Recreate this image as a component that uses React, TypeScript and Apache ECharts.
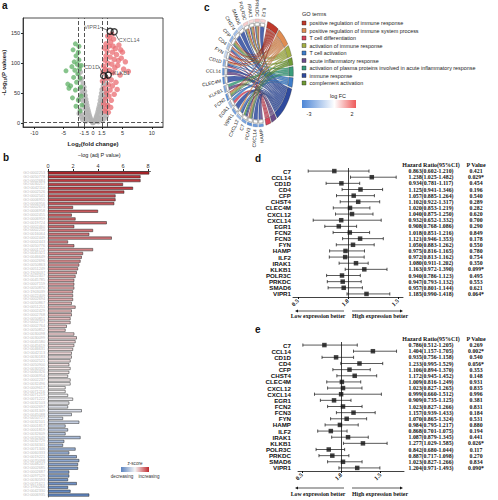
import React, { useEffect, useRef } from "react";
import * as echarts from "echarts";

// ---------------- Panel a : volcano ----------------
const volcanoXTicks = [-10, -5, -1.5, 0, 1.5, 5, 10];
const volcanoYTicks = [0, 50, 100, 150];
const fcCutoffs = [-2.5, -1.5, 1.5, 2.5];
const pCutoff = 1.3;
const volcanoGray = [
  [-0.1, 0.5], [0.1, 0.8], [0.2, 2], [-0.2, 2.5], [0.3, 4], [-0.3, 4.5], [0.4, 6], [-0.4, 7], [0.5, 9], [-0.5, 10],
  [0.6, 12], [-0.6, 13], [0.7, 15], [-0.7, 17], [0.8, 19], [-0.8, 21], [0.9, 23], [-0.9, 25], [1.0, 27], [-1.0, 30],
  [1.1, 32], [-1.1, 35], [1.2, 38], [-1.2, 40], [1.3, 44], [-1.3, 46], [1.4, 50], [-1.4, 53], [1.5, 56], [-1.5, 60],
  [1.0, 8], [-1.0, 10], [1.2, 14], [-1.2, 16], [1.4, 20], [-1.4, 24], [1.6, 26], [-1.6, 30], [1.8, 34], [-1.8, 38],
  [2.0, 42], [-2.0, 48], [2.2, 52], [-2.2, 58], [1.7, 62], [-1.7, 66], [1.9, 70], [-1.9, 74], [2.1, 80], [-2.1, 85],
  [2.3, 88], [-2.3, 95], [0.6, 3], [-0.8, 5], [1.3, 6], [-1.5, 9], [1.7, 12], [-1.9, 15], [2.1, 18], [-2.2, 22],
  [2.4, 30], [-2.4, 40], [2.0, 8], [-2.0, 10], [0.9, 2], [-1.2, 3], [1.6, 4], [-1.8, 6], [2.3, 12], [-2.4, 16],
  [1.1, 20], [-1.1, 22], [1.5, 36], [-1.5, 40], [1.9, 48], [-1.9, 55], [2.2, 65], [-2.2, 72], [1.3, 28], [-1.3, 32],
  [1.7, 44], [-1.7, 50], [2.4, 74], [-2.4, 82], [0.8, 10], [-0.9, 14],
];
const volcanoDown = [
  [-1.9, 30], [-2.0, 45], [-2.1, 60], [-2.2, 75], [-2.3, 90], [-2.4, 105], [-2.5, 118], [-2.6, 82], [-2.7, 98],
  [-2.8, 68], [-2.9, 112], [-3.0, 55], [-3.1, 88], [-3.2, 102], [-3.3, 76], [-3.4, 122], [-3.6, 94], [-3.8, 62],
  [-4.1, 58], [-4.3, 65], [-4.6, 87], [-2.2, 20], [-2.5, 38], [-2.9, 28], [-3.5, 42], [-2.0, 96], [-2.4, 128], [-3.0, 132],
];
const volcanoUp = [
  [1.6, 70], [1.7, 85], [1.8, 95], [1.9, 58], [2.0, 105], [2.1, 90], [2.2, 112], [2.3, 75], [2.4, 120], [2.5, 100],
  [2.6, 64], [2.7, 128], [2.8, 88], [2.9, 110], [3.0, 135], [3.1, 72], [3.2, 98], [3.3, 118], [3.4, 84], [3.5, 140],
  [3.6, 106], [3.7, 92], [3.8, 124], [3.9, 68], [4.0, 114], [4.2, 96], [4.4, 130], [4.6, 80], [4.8, 108], [5.0, 118],
  [5.5, 102], [5.2, 90], [6.0, 86], [2.1, 40], [2.3, 50], [2.5, 30], [2.7, 45], [2.9, 55], [3.1, 38], [3.3, 62],
  [2.2, 25], [2.6, 18], [3.0, 26], [3.6, 48], [4.1, 56], [1.9, 125], [2.2, 132], [2.5, 145], [2.8, 142], [3.2, 148],
  [3.4, 128], [4.3, 104], [4.7, 122], [2.0, 20], [1.8, 32],
];
const labeledGenes = ["VIPR1", "CXCL14", "CD1D", "KLKB1"];
const labeledFC = [2.9, 3.6, 1.8, 2.6];
const labeledP = [153, 152, 79, 80];

// ---------------- Panel b : GO bars ----------------
const goTermIds = [
  "GO:0002253", "GO:0050778", "GO:0002684", "GO:0030217", "GO:0042110", "GO:0002526", "GO:0002541", "GO:0006955", "GO:0006956", "GO:0002673",
  "GO:0006958", "GO:0002455", "GO:0006959", "GO:0019724", "GO:0002460", "GO:0002250", "GO:0016064", "GO:0002449", "GO:0002443", "GO:0050776",
  "GO:0001775", "GO:0045321", "GO:0046649", "GO:0002696", "GO:0050863", "GO:0051249", "GO:1903037", "GO:0022407", "GO:0045785", "GO:0007159",
  "GO:0050870", "GO:1903039", "GO:0022409", "GO:0002694", "GO:0050867", "GO:0051251", "GO:0002429", "GO:0002768", "GO:0050851", "GO:0002757",
  "GO:0002764", "GO:0050852", "GO:0030098", "GO:0030099", "GO:0045580", "GO:0045619", "GO:0046631", "GO:0042113", "GO:0030183", "GO:0002521",
  "GO:0050900", "GO:0030595", "GO:0060326", "GO:0006954", "GO:0002237", "GO:0032496", "GO:0009617", "GO:0071216", "GO:0071219", "GO:0071222",
  "GO:0032103", "GO:0002697", "GO:0031349", "GO:0045088", "GO:0050727", "GO:0032101", "GO:0001817", "GO:0001819", "GO:0032609", "GO:0032649",
  "GO:0032729", "GO:0034341", "GO:0071346", "GO:0060333", "GO:0019221", "GO:0070098", "GO:0048247", "GO:0002685", "GO:0002687", "GO:0097529",
  "GO:0030593", "GO:0071621", "GO:1990266", "GO:0042330", "GO:0006935",
];
const goNegLogAdjP = [
  8.1, 7.4, 7.4, 6.0, 6.8, 6.1, 5.4, 5.4, 5.3, 2.0, 4.0, 1.9, 2.2, 4.7, 2.1, 3.6, 3.3, 5.1, 1.6, 2.1,
  3.6, 2.8, 2.7, 2.6, 2.5, 2.4, 2.3, 2.2, 2.1, 2.1, 2.1, 2.0, 2.0, 2.0, 1.9, 2.2, 1.9, 1.9, 1.8, 1.8, 1.5, 1.4, 2.1, 2.3, 2.2, 2.1, 2.0, 1.9, 1.9, 1.8, 1.7,
  1.8, 1.7, 1.6, 1.8, 1.8, 1.4, 1.4, 1.6, 2.0, 1.7, 1.6, 2.7, 1.9, 1.2, 2.5, 1.4, 1.6, 1.4, 2.6, 1.3, 1.2, 2.2, 1.7, 2.3, 2.5, 2.4, 2.4, 1.7, 1.7, 1.6, 2.3, 1.6, 1.8, 3.3,
];
const goZScore = [
  3.3, 3.1, 3.0, 2.9, 2.9, 2.8, 2.7, 2.7, 2.6, 2.5, 2.5, 2.4, 2.4, 2.3, 2.3, 2.2, 2.1, 2.1, 2.0, 2.0,
  1.9, 1.9, 1.8, 1.8, 1.7, 1.7, 1.6, 1.6, 1.5, 1.5, 1.4, 1.4, 1.3, 1.3, 1.2, 1.2, 1.1, 1.1, 1.0, 1.0, 0.9, 0.9, 0.8, 0.8, 0.7, 0.7, 0.6, 0.6, 0.5, 0.5, 0.5,
  0.4, 0.4, 0.3, 0.3, 0.2, 0.2, 0.1, 0.0, 0.0, -0.1, -0.3, -0.4, -0.6, -0.7, -0.8, -1.0, -1.1, -1.2, -1.4, -1.5, -1.6, -1.7, -1.8, -1.9, -2.0, -2.1, -2.2, -2.3, -2.4, -2.5, -2.6, -2.7, -2.8, -2.9,
];
const barTicks = [0, 2, 4, 6, 8];

// ---------------- Panel c : GO chord ----------------
const goTerms = [
  "positive regulation of immune response",
  "positive regulation of immune system process",
  "T cell differentiation",
  "activation of immune response",
  "T cell activation",
  "acute inflammatory response",
  "activation of plasma proteins involved in acute inflammatory response",
  "immune response",
  "complement activation",
];
const goTermColors = ["#c0392b", "#e08d52", "#d6455b", "#a3b045", "#3d7cc9", "#6b4c8a", "#3a9c7b", "#2e4a9e", "#6f9a35"];
const chordGenes = ["ILF2", "PRKDC", "IRAK1", "POLR3C", "SMAD6", "CHST4", "CFP", "CD4", "FYN", "CD1D", "CCL14",
  "CLEC4M", "KLKB1", "FCN2", "EGR1", "VIPR1", "CXCL12", "C7", "FCN3", "CXCL14", "HAMP"];
const chordLogFC = [0.5, 0.7, 0.4, 0.6, -1.0, -1.6, -1.9, -1.3, -0.9, -2.0, -2.6, -2.9, -2.1, -2.7, -1.5, -2.3, -1.7, -2.2, -2.8, -2.4, -2.5];
const chordGeneTerms = [
  [7], [0, 1, 3, 7], [0, 1, 3, 7], [0, 1, 3, 7], [7], [7], [0, 1, 3, 6, 7, 8], [0, 1, 2, 4, 7], [0, 1, 2, 4, 7], [0, 1, 2, 4, 7],
  [5, 7], [7], [5, 6], [0, 1, 3, 6, 7, 8], [2, 4], [7], [1, 4, 7], [5, 6, 7, 8], [0, 1, 3, 6, 7, 8], [7], [5, 7],
];
const chordTermOrder = [0, 1, 3, 8, 6, 4, 7, 5, 2];
const lfcRange = [-3, 2];

// ---------------- Panels d / e : forest plots ----------------
const forestGenes = ["C7", "CCL14", "CD1D", "CD4", "CFP", "CHST4", "CLEC4M", "CXCL12", "CXCL14", "EGR1", "FCN2",
  "FCN3", "FYN", "HAMP", "ILF2", "IRAK1", "KLKB1", "POLR3C", "PRKDC", "SMAD6", "VIPR1"];
const dHR = [0.863, 1.238, 0.934, 1.125, 1.057, 1.102, 1.020, 1.040, 0.932, 0.908, 1.018, 1.121, 1.050, 0.975, 0.972, 1.080, 1.163, 0.940, 0.947, 0.957, 1.185];
const dLow = [0.602, 1.025, 0.781, 0.941, 0.885, 0.922, 0.853, 0.875, 0.652, 0.768, 0.851, 0.946, 0.883, 0.816, 0.813, 0.911, 0.972, 0.786, 0.793, 0.801, 0.990];
const dHigh = [1.210, 1.482, 1.117, 1.346, 1.264, 1.317, 1.219, 1.250, 1.332, 1.086, 1.216, 1.353, 1.262, 1.165, 1.162, 1.202, 1.390, 1.123, 1.132, 1.144, 1.418];
const dP = ["0.421", "0.029*", "0.454", "0.196", "0.540", "0.289", "0.282", "0.620", "0.700", "0.290", "0.849", "0.178", "0.550", "0.780", "0.754", "0.350", "0.099*", "0.495", "0.553", "0.621", "0.064*"];
const eHR = [0.786, 1.404, 0.935, 1.233, 1.106, 1.172, 1.009, 1.023, 0.999, 0.909, 1.023, 1.157, 1.070, 0.984, 0.868, 1.087, 1.277, 0.842, 0.887, 1.023, 1.204];
const eLow = [0.512, 1.157, 0.756, 0.995, 0.894, 0.945, 0.816, 0.827, 0.660, 0.735, 0.827, 0.939, 0.865, 0.795, 0.701, 0.879, 1.029, 0.680, 0.717, 0.827, 0.971];
const eHigh = [1.205, 1.705, 1.158, 1.529, 1.370, 1.452, 1.249, 1.265, 1.512, 1.125, 1.266, 1.433, 1.324, 1.217, 1.075, 1.345, 1.585, 1.044, 1.098, 1.266, 1.493];
const eP = ["0.269", "0.002*", "0.540", "0.056*", "0.353", "0.148", "0.931", "0.835", "0.996", "0.381", "0.831", "0.184", "0.531", "0.880", "0.194", "0.441", "0.026*", "0.117", "0.270", "0.834", "0.090*"];
const forestTicks = [0.5, 1, 1.5];

// ---------------- helpers ----------------
const SANS = '"Liberation Sans", Arial, sans-serif';
const SERIF = '"Liberation Serif", "Times New Roman", serif';
const DEG = Math.PI / 180;
const CH = { cx: 258, cy: 73, rx: 31, ry: 47 };
const LFC_BLUE = "#4d86d6";
const LFC_RED = "#ee5a5a";

function ellPt(a: number, s: number): number[] {
  return [CH.cx + s * CH.rx * Math.cos(a * DEG), CH.cy + s * CH.ry * Math.sin(a * DEG)];
}
function arcPts(a0: number, a1: number, s: number): number[][] {
  const n = Math.max(2, Math.ceil(Math.abs(a1 - a0) / 2) + 1);
  const out: number[][] = [];
  for (let k = 0; k < n; k++) out.push(ellPt(a0 + ((a1 - a0) * k) / (n - 1), s));
  return out;
}
function bandPts(a0: number, a1: number, s0: number, s1: number): number[][] {
  return [...arcPts(a0, a1, s1), ...arcPts(a1, a0, s0)];
}
function bezPts(p0: number[], p1: number[]): number[][] {
  const out: number[][] = [];
  for (let k = 1; k < 18; k++) {
    const t = k / 18;
    const u = 1 - t;
    out.push([u * u * p0[0] + 2 * u * t * CH.cx + t * t * p1[0], u * u * p0[1] + 2 * u * t * CH.cy + t * t * p1[1]]);
  }
  return out;
}
function lfcColor(v: number): string {
  if (v < 0) return echarts.color.lerp(Math.min(1, -v / -lfcRange[0]), ["#ffffff", LFC_BLUE]) as string;
  return echarts.color.lerp(Math.min(1, v / lfcRange[1]), ["#ffffff", LFC_RED]) as string;
}

function buildChord() {
  const nG = chordGenes.length;
  const gTop = 283, gBot = 80, gPad = 0.9;
  const slot = (gTop - gBot) / nG;
  const geneRange = chordGenes.map((_, g) => [gTop - g * slot - gPad, gTop - (g + 1) * slot + gPad]);
  const links: number[][] = [];
  chordGeneTerms.forEach((ts, g) => ts.forEach((t) => links.push([g, t])));
  const tTop = -74, tBot = 77, tGap = 1.6;
  const unit = (tBot - tTop - tGap * (goTerms.length - 1)) / links.length;
  const termRange: number[][] = [];
  let a = tTop;
  chordTermOrder.forEach((t) => {
    const n = links.filter((l) => l[1] === t).length;
    termRange[t] = [a, a + n * unit];
    a += n * unit + tGap;
  });
  const rank = (t: number) => chordTermOrder.indexOf(t);
  const geneSub: Record<string, number[]> = {};
  chordGeneTerms.forEach((ts, g) => {
    const sorted = [...ts].sort((x, y) => rank(x) - rank(y));
    const [hi, lo] = geneRange[g];
    const step = (hi - lo) / sorted.length;
    sorted.forEach((t, k) => {
      geneSub[g + "_" + t] = [hi - k * step, hi - (k + 1) * step];
    });
  });
  const termSub: Record<string, number[]> = {};
  goTerms.forEach((_, t) => {
    const gs = links.filter((l) => l[1] === t).map((l) => l[0]).sort((x, y) => x - y);
    const s = termRange[t][0];
    gs.forEach((g, k) => {
      termSub[g + "_" + t] = [s + k * unit, s + (k + 1) * unit];
    });
  });
  return { geneRange, termRange, links, geneSub, termSub };
}

function forestSeries(gridAxis: number, low: number[], high: number[], hr: number[]) {
  const yIdx = gridAxis === 2 ? 2 : 5;
  return [
    {
      type: "custom",
      xAxisIndex: gridAxis,
      yAxisIndex: yIdx,
      encode: { x: [0, 1], y: 2 },
      data: low.map((lo, i) => [lo, high[i], i]),
      renderItem: (_p: any, api: any) => {
        const p0 = api.coord([api.value(0), api.value(2)]);
        const p1 = api.coord([api.value(1), api.value(2)]);
        const h = 1.6;
        const st = { stroke: "#111", lineWidth: 0.7 };
        return {
          type: "group",
          children: [
            { type: "line", shape: { x1: p0[0], y1: p0[1], x2: p1[0], y2: p1[1] }, style: st },
            { type: "line", shape: { x1: p0[0], y1: p0[1] - h, x2: p0[0], y2: p0[1] + h }, style: st },
            { type: "line", shape: { x1: p1[0], y1: p1[1] - h, x2: p1[0], y2: p1[1] + h }, style: st },
          ],
        };
      },
      silent: true,
      z: 3,
    },
    {
      type: "scatter",
      xAxisIndex: gridAxis,
      yAxisIndex: yIdx,
      data: hr.map((v, i) => [v, i]),
      symbol: "rect",
      symbolSize: 4.5,
      itemStyle: { color: "#111" },
      silent: true,
      z: 4,
      markLine: {
        silent: true,
        symbol: "none",
        label: { show: false },
        lineStyle: { color: "#111", type: "solid", width: 0.8 },
        data: [{ xAxis: 1 }],
      },
    },
  ];
}

function arrow(x1: number, x2: number, y: number) {
  const dir = x2 > x1 ? 1 : -1;
  return [
    { type: "line", shape: { x1, y1: y, x2: x2 - dir * 2, y2: y }, style: { stroke: "#111", lineWidth: 0.7 }, silent: true },
    { type: "polygon", shape: { points: [[x2, y], [x2 - dir * 3, y - 1.4], [x2 - dir * 3, y + 1.4]] }, style: { fill: "#111" }, silent: true },
  ];
}

function txt(text: string, x: number, y: number, o: any = {}) {
  return {
    type: "text",
    x,
    y,
    style: {
      text,
      fill: o.fill || "#111",
      fontSize: o.fontSize || 5,
      fontWeight: o.fontWeight || "normal",
      fontFamily: o.fontFamily || SANS,
      align: o.align || "left",
      verticalAlign: o.verticalAlign || "middle",
    },
    silent: true,
  };
}

function buildOption() {
  const chord = buildChord();
  const hrText = (hr: number[], lo: number[], hi: number[]) =>
    hr.map((v, i) => `${v.toFixed(3)}(${lo[i].toFixed(3)}-${hi[i].toFixed(3)})`);
  const labelShift = [[-18, -4], [15, 8], [-12, -9], [13, -2]];
  const HR_X = 431;
  const P_X = 476;

  const catAxisBase = (gridIndex: number, data: string[]) => ({
    gridIndex,
    type: "category",
    inverse: true,
    data,
    axisLine: { show: false },
    axisTick: { show: false },
    splitLine: { show: false },
  });
  const tableAxis = (gridIndex: number, data: string[], offset: number) => ({
    ...catAxisBase(gridIndex, data),
    position: "right",
    offset,
    axisLabel: { interval: 0, margin: 0, align: "center", fontSize: 5.8, fontWeight: "bold", fontFamily: SERIF, color: "#111" },
  });
  const forestX = (gridIndex: number, max: number) => ({
    gridIndex,
    type: "value",
    min: 0.45,
    max,
    axisLine: { show: true, onZero: false, lineStyle: { color: "#111", width: 0.8 } },
    axisTick: { show: true, customValues: forestTicks, length: 2, lineStyle: { color: "#111" } },
    axisLabel: {
      customValues: forestTicks,
      rotate: 45,
      margin: 3,
      fontSize: 6,
      fontWeight: "bold",
      fontFamily: SERIF,
      color: "#111",
      formatter: (v: number) => v.toFixed(1),
    },
    splitLine: { show: false },
  });

  const graphic: any[] = [];
  // panel letters
  [["a", 2, 5], ["b", 3, 157], ["c", 204, 7], ["d", 255, 158], ["e", 255, 329]].forEach(([t, x, y]) =>
    graphic.push(txt(t as string, x as number, y as number, { fontSize: 10, fontWeight: "bold" }))
  );
  // z-score legend
  graphic.push(txt("z-score", 135, 463, { fontSize: 4.6, align: "center", fill: "#333" }));
  graphic.push({
    type: "rect",
    shape: { x: 121, y: 467, width: 28, height: 5 },
    style: {
      fill: new echarts.graphic.LinearGradient(0, 0, 1, 0, [
        { offset: 0, color: "#5b83c0" },
        { offset: 0.5, color: "#f5f5f5" },
        { offset: 1, color: "#c0282d" },
      ]),
    },
    silent: true,
  });
  graphic.push(txt("decreasing", 122, 476.5, { fontSize: 4.6, align: "center", fill: "#333" }));
  graphic.push(txt("increasing", 149, 476.5, { fontSize: 4.6, align: "center", fill: "#333" }));
  // GO legend
  graphic.push(txt("GO terms", 302, 14, { fontSize: 5.6, fill: "#222" }));
  goTerms.forEach((t, i) => {
    const y = 23 + i * 7.5;
    graphic.push({
      type: "rect",
      shape: { x: 302, y: y - 2, width: 4, height: 4 },
      style: { fill: goTermColors[i], stroke: "#222", lineWidth: 0.4 },
      silent: true,
    });
    graphic.push(txt(t, 309.5, y, { fontSize: 5.4, fill: "#222" }));
  });
  // logFC legend
  graphic.push(txt("log FC", 338, 96, { fontSize: 5.4, align: "center", fill: "#222" }));
  graphic.push({
    type: "rect",
    shape: { x: 302, y: 100, width: 54, height: 8 },
    style: {
      fill: new echarts.graphic.LinearGradient(0, 0, 1, 0, [
        { offset: 0, color: LFC_BLUE },
        { offset: -lfcRange[0] / (lfcRange[1] - lfcRange[0]), color: "#ffffff" },
        { offset: 1, color: LFC_RED },
      ]),
    },
    silent: true,
  });
  graphic.push(txt("-3", 309, 114, { fontSize: 5.4, align: "center", fill: "#222" }));
  graphic.push(txt("2", 352, 114, { fontSize: 5.4, align: "center", fill: "#222" }));
  // forest headers and arrows
  [[165, 311, 316], [339, 488, 494]].forEach(([hy, ay, ty]) => {
    graphic.push(txt("Hazard Ratio(95%CI)", HR_X, hy, { fontSize: 6, fontWeight: "bold", fontFamily: SERIF, align: "center" }));
    graphic.push(txt("P Value", P_X, hy, { fontSize: 6, fontWeight: "bold", fontFamily: SERIF, align: "center" }));
    graphic.push(...arrow(344, 295, ay));
    graphic.push(...arrow(352, 403, ay));
    graphic.push(txt("Low expression better", 318, ty, { fontSize: 5.8, fontWeight: "bold", fontFamily: SERIF, align: "center" }));
    graphic.push(txt("High expression better", 380, ty, { fontSize: 5.8, fontWeight: "bold", fontFamily: SERIF, align: "center" }));
  });

  const nG = chordGenes.length;
  const dGrid = { left: 293, top: 168, width: 110, height: 129 };
  const eGrid = { left: 298, top: 342, width: 106, height: 129 };

  return {
    animation: false,
    backgroundColor: "#ffffff",
    textStyle: { fontFamily: SANS },
    grid: [
      { left: 22, top: 18, width: 141, height: 109, show: true, borderColor: "#222", borderWidth: 0.8, backgroundColor: "transparent" },
      { left: 48, top: 171, width: 102.5, height: 326 },
      dGrid,
      eGrid,
    ],
    xAxis: [
      {
        gridIndex: 0,
        type: "value",
        min: -11.9,
        max: 11.9,
        axisLine: { show: true, onZero: false, lineStyle: { color: "#222", width: 0.8 } },
        axisTick: { show: true, customValues: volcanoXTicks, length: 2, lineStyle: { color: "#222" } },
        axisLabel: { customValues: volcanoXTicks, fontSize: 5.5, margin: 3, color: "#333" },
        splitLine: { show: false },
        name: "Log{s|2}(fold change)",
        nameLocation: "middle",
        nameGap: 14,
        nameTextStyle: {
          fontSize: 6,
          fontWeight: "bold",
          color: "#222",
          rich: { s: { fontSize: 4, fontWeight: "bold", verticalAlign: "bottom", color: "#222" } },
        },
      },
      {
        gridIndex: 1,
        type: "value",
        position: "top",
        min: 0,
        max: 8.2,
        axisLine: { show: true, onZero: false, lineStyle: { color: "#222", width: 0.7 } },
        axisTick: { show: true, customValues: barTicks, length: 2 },
        axisLabel: { customValues: barTicks, fontSize: 5.5, margin: 2, color: "#333" },
        splitLine: { show: false },
        name: "\u2212log (adj P value)",
        nameLocation: "middle",
        nameGap: 10,
        nameTextStyle: { fontSize: 5.5, color: "#222" },
      },
      forestX(2, 1.55),
      forestX(3, 1.8),
    ],
    yAxis: [
      {
        gridIndex: 0,
        type: "value",
        min: -6.5,
        max: 175,
        axisLine: { show: true, onZero: false, lineStyle: { color: "#222", width: 0.8 } },
        axisTick: { show: true, customValues: volcanoYTicks, length: 2 },
        axisLabel: { customValues: volcanoYTicks, fontSize: 5.5, margin: 3, color: "#333" },
        splitLine: { show: false },
        name: "-Log{s|10}(P values)",
        nameLocation: "middle",
        nameGap: 13,
        nameTextStyle: {
          fontSize: 6,
          fontWeight: "bold",
          color: "#222",
          rich: { s: { fontSize: 4, fontWeight: "bold", verticalAlign: "bottom", color: "#222" } },
        },
      },
      {
        gridIndex: 1,
        type: "category",
        inverse: true,
        data: goTermIds,
        axisLine: { show: true, lineStyle: { color: "#222", width: 0.7 } },
        axisTick: { show: false },
        axisLabel: { interval: 0, fontSize: 3.8, color: "#b8b8b8", margin: 3 },
      },
      {
        ...catAxisBase(2, forestGenes),
        axisLabel: { interval: 0, margin: 2, fontSize: 6.2, fontWeight: "bold", color: "#111" },
      },
      tableAxis(2, hrText(dHR, dLow, dHigh), HR_X - (dGrid.left + dGrid.width)),
      tableAxis(2, dP, P_X - (dGrid.left + dGrid.width)),
      {
        ...catAxisBase(3, forestGenes),
        axisLabel: { interval: 0, margin: 7, fontSize: 6.2, fontWeight: "bold", color: "#111" },
      },
      tableAxis(3, hrText(eHR, eLow, eHigh), HR_X - (eGrid.left + eGrid.width)),
      tableAxis(3, eP, P_X - (eGrid.left + eGrid.width)),
    ],
    visualMap: [
      {
        type: "continuous",
        show: false,
        seriesIndex: 4,
        dimension: 2,
        min: -3,
        max: 3.3,
        inRange: { color: ["#5b83c0", "#f7f4f4", "#b8252b"] },
      },
    ],
    series: [
      {
        type: "scatter",
        xAxisIndex: 0,
        yAxisIndex: 0,
        data: volcanoGray,
        symbolSize: 5,
        itemStyle: { color: "#b4b4b4", opacity: 0.85 },
        silent: true,
        markLine: {
          silent: true,
          symbol: "none",
          label: { show: false },
          lineStyle: { color: "#555", type: [4, 2], width: 1 },
          data: [...fcCutoffs.map((v) => ({ xAxis: v })), { yAxis: pCutoff }],
        },
      },
      {
        type: "scatter",
        xAxisIndex: 0,
        yAxisIndex: 0,
        data: volcanoDown,
        symbolSize: 5,
        itemStyle: { color: "#5fb065", opacity: 0.75 },
        silent: true,
      },
      {
        type: "scatter",
        xAxisIndex: 0,
        yAxisIndex: 0,
        data: volcanoUp,
        symbolSize: 5.5,
        itemStyle: { color: "#ea6c72", opacity: 0.75 },
        silent: true,
      },
      {
        type: "scatter",
        xAxisIndex: 0,
        yAxisIndex: 0,
        data: labeledGenes.map((n, i) => ({ name: n, value: [labeledFC[i], labeledP[i]] })),
        symbolSize: 6,
        itemStyle: { color: "rgba(255,255,255,0)", borderColor: "#111", borderWidth: 1.4 },
        label: { show: true, position: "inside", formatter: "{b}", fontSize: 5.5, color: "#333" },
        labelLayout: (p: any) => ({ dx: labelShift[p.dataIndex][0], dy: labelShift[p.dataIndex][1] }),
        labelLine: { show: true, lineStyle: { color: "#222", width: 0.6 } },
        silent: true,
        z: 5,
      },
      {
        type: "bar",
        xAxisIndex: 1,
        yAxisIndex: 1,
        data: goNegLogAdjP.map((v, i) => [v, i, goZScore[i]]),
        encode: { x: 0, y: 1 },
        barCategoryGap: "22%",
        itemStyle: { borderColor: "#222", borderWidth: 0.5 },
        silent: true,
      },
      ...forestSeries(2, dLow, dHigh, dHR),
      ...forestSeries(3, eLow, eHigh, eHR),
      {
        type: "custom",
        coordinateSystem: "none",
        silent: true,
        z: 2,
        data: chord.links.map((_, i) => [i]),
        renderItem: (params: any) => {
          const [g, t] = chord.links[params.dataIndex];
          const [ga0, ga1] = chord.geneSub[g + "_" + t];
          const [tb0, tb1] = chord.termSub[g + "_" + t];
          const r = 0.99;
          const pts = [
            ...arcPts(ga1, ga0, r),
            ...bezPts(ellPt(ga0, r), ellPt(tb0, r)),
            ...arcPts(tb0, tb1, r),
            ...bezPts(ellPt(tb1, r), ellPt(ga1, r)),
          ];
          return {
            type: "polygon",
            shape: { points: pts },
            style: { fill: goTermColors[t], opacity: 0.85, stroke: "rgba(20,20,20,0.45)", lineWidth: 0.25 },
          };
        },
      },
      {
        type: "custom",
        coordinateSystem: "none",
        silent: true,
        z: 3,
        data: [...chordGenes, ...goTerms].map((_, i) => [i]),
        renderItem: (params: any) => {
          const i = params.dataIndex;
          if (i < nG) {
            const [hi, lo] = chord.geneRange[i];
            const mid = (hi + lo) / 2;
            const anchor = ellPt(mid, 1.2);
            const phi = Math.atan2(anchor[1] - CH.cy, anchor[0] - CH.cx);
            return {
              type: "group",
              children: [
                { type: "polygon", shape: { points: bandPts(hi, lo, 1.0, 1.07) }, style: { fill: "#ffffff", stroke: "#333", lineWidth: 0.4 } },
                { type: "polygon", shape: { points: bandPts(hi, lo, 1.09, 1.15) }, style: { fill: lfcColor(chordLogFC[i]), stroke: "#777", lineWidth: 0.2 } },
                {
                  type: "text",
                  x: anchor[0],
                  y: anchor[1],
                  rotation: -(phi + Math.PI),
                  style: { text: chordGenes[i], fill: "#222", fontSize: 4.8, fontFamily: SANS, align: "right", verticalAlign: "middle" },
                },
              ],
            };
          }
          const t = i - nG;
          const [s, e] = chord.termRange[t];
          return {
            type: "polygon",
            shape: { points: bandPts(s, e, 1.0, 1.14) },
            style: { fill: goTermColors[t], stroke: "#222", lineWidth: 0.3 },
          };
        },
      },
    ],
    graphic,
  };
}

export default function App() {
  const ref = useRef<HTMLDivElement>(null);
  useEffect(() => {
    document.body.style.margin = "0";
    const chart = echarts.init(ref.current as HTMLDivElement, null, { renderer: "svg", width: 498, height: 500 });
    chart.setOption(buildOption() as any);
    return () => chart.dispose();
  }, []);
  return (
    <div
      ref={ref}
      style={{ position: "absolute", left: 0, top: 0, width: 498, height: 500, background: "#ffffff" }}
    />
  );
}
